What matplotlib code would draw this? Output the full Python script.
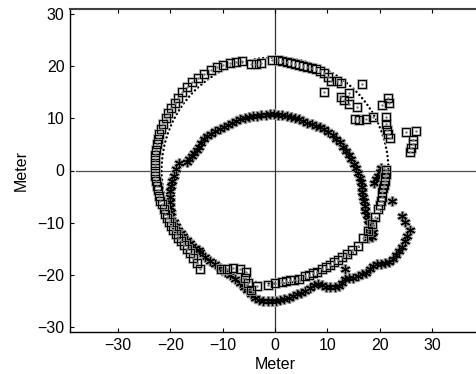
import numpy as np
import matplotlib.pyplot as plt
from matplotlib.patches import Circle

plt.rcParams['font.family'] = ['Liberation Sans', 'DejaVu Sans']

# reference circle (dotted)
circle_center = (0.0, 0.0)
circle_radius = 21.7

# square markers (estimated trajectory)
sq_x = [-14.4, -15.0, -15.6, -16.3, -16.8, -17.4, -18.0, -18.5, -19.0, -19.5,
        -19.9, -20.3, -20.6, -21.0, -21.3, -21.6, -21.9, -22.2, -22.4, -22.6,
        -22.8, -22.9, -23.0, -23.0, -23.0, -22.9, -22.8, -22.6, -22.4, -22.1,
        -21.8, -21.4, -20.9, -20.4, -19.8, -19.2, -18.5, -17.7, -16.8, -15.8,
        -14.7, -13.5, -12.3, -11.1, -9.9, -8.7, -7.5, -6.3,
        -4.5, -3.6, -2.6, -0.5, 0.5, 1.3, 2.2, 3.0, 3.8, 4.6, 5.4, 6.2, 7.0,
        7.8, 8.6, 9.4, 10.2, 10.8, 11.9, 12.7,
        9.4, 12.6, 13.1, 14.2, 14.2, 15.7, 16.7, 15.3, 16.1, 17.4, 18.7, 20.4,
        21.7, 21.8, 21.3, 21.3, 21.5, 21.7, 21.9, 25.0, 27.0, 26.4, 26.3, 26.1,
        25.8,
        21.3, 21.2, 21.1, 21.0, 20.9, 20.7, 20.5, 20.4, 20.2, 20.0, 19.6, 19.1,
        18.5, 17.8, 16.9, 15.9, 14.8, 13.7, 12.9, 12.1, 11.3, 10.5, 9.7, 8.9,
        8.1, 7.3, 6.5, 5.7, 4.5, 3.7, 2.9, 2.1, 1.3, 0.0, -1.3, -3.5,
        -4.5, -5.1, -5.7, -5.6, -6.7, -8.0, -9.2, -10.3]
sq_y = [-18.9, -17.7, -16.7, -15.8, -15.0, -14.3, -13.6, -13.0, -12.2, -11.5,
        -10.7, -9.9, -9.1, -8.3, -7.4, -6.5, -5.8, -4.8, -3.8, -2.9,
        -2.0, -1.0, 0.0, 1.0, 2.0, 3.0, 4.0, 5.0, 6.0, 7.0,
        8.0, 9.0, 10.0, 11.0, 12.0, 13.0, 14.0, 15.0, 16.0, 17.0,
        17.8, 18.6, 19.3, 19.9, 20.3, 20.6, 20.9, 21.0,
        20.4, 20.4, 20.7, 21.2, 21.2, 21.0, 20.9, 20.7, 20.5, 20.3, 20.1, 19.9, 19.6,
        19.4, 19.1, 18.7, 18.0, 17.2, 17.2, 16.7,
        15.1, 14.2, 13.5, 14.9, 12.7, 12.1, 16.6, 9.9, 9.7, 9.8, 10.3, 12.5,
        13.9, 12.9, 10.2, 8.9, 7.8, 7.0, 6.2, 7.4, 7.5, 5.9, 5.1, 4.3,
        3.5,
        0.1, -0.6, -1.3, -2.0, -2.7, -3.4, -4.2, -5.0, -5.8, -6.6, -7.4, -8.9,
        -10.2, -11.7, -13.0, -14.4, -15.3, -16.1, -16.6, -17.1, -17.6, -18.1, -18.6, -19.0,
        -19.4, -19.7, -20.0, -20.3, -20.8, -21.0, -21.1, -21.3, -21.4, -21.6, -21.9, -22.1,
        -22.9, -21.5, -20.6, -19.5, -18.9, -18.7, -19.0, -19.0]

# asterisk markers (estimated trajectory)
st_x = [-18.3, -18.9, -19.4, -19.7, -19.9, -20.0, -20.1, -20.1, -20.0, -19.9,
        -19.8, -19.4, -18.9, -18.5, -18.0, -17.5, -16.9, -16.3, -15.8, -15.3,
        -14.3, -13.3, -12.4, -11.5, -10.5, -9.5, -8.6, -7.6, -6.7, -6.0,
        -5.4, -4.5, -3.8, -3.0, -2.2, -1.4, -0.6, 0.2, 1.0, 1.8,
        2.6, 3.4, 4.2, 5.0, 5.8, 6.6, 7.4, 8.2, 9.0, 9.8,
        10.6, 11.4, 12.2, 12.9, 13.4, 14.2, 15.0, 15.8, 16.6, 17.4,
        18.2, 18.8, 19.5, 20.3, 21.0, 21.8, 22.6, 23.2, 23.8, 24.3,
        24.8, 25.3, 25.8,
        -16.9, -16.4, -15.9, -15.4, -15.0, -14.6, -14.2, -13.6, -13.0, -12.2,
        -11.4, -10.6, -9.8, -9.0, -8.2, -7.4, -6.6, -5.8, -5.0, -4.2,
        -3.4, -2.6, -1.8, -1.0, -0.2, 0.6, 1.4, 2.2, 3.0, 3.8,
        4.6, 5.4, 6.2, 7.0, 7.8, 8.6, 9.4, 10.2, 11.0, 11.7,
        12.4, 13.0, 13.6, 14.1, 14.6, 15.1, 15.5, 15.9, 16.2, 16.4,
        16.6, 16.7, 16.9, 17.0, 17.2, 17.3, 17.5, 17.7, 17.9, 18.1,
        18.4, 18.6,
        20.3, 20.0, 19.6, 19.3, 19.0, 18.0, 18.8, 17.8,
        22.3, 24.2, 24.9, 13.4, -14.5]
st_y = [1.4, 0.3, -1.0, -2.0, -3.0, -4.0, -5.0, -6.0, -7.0, -7.9,
        -8.8, -9.9, -10.6, -11.4, -12.0, -12.6, -13.3, -13.9, -14.4, -14.9,
        -15.7, -16.6, -17.4, -18.0, -18.7, -19.4, -20.0, -20.8, -21.6, -22.3,
        -22.9, -23.7, -24.4, -24.8, -25.1, -25.1, -25.0, -25.0, -24.8, -24.6,
        -24.4, -24.1, -23.8, -23.5, -23.1, -22.6, -22.0, -21.7, -22.0, -22.3,
        -22.3, -22.4, -22.1, -21.5, -20.8, -20.7, -20.6, -20.3, -19.9, -19.6,
        -19.0, -18.4, -18.0, -18.0, -17.8, -17.5, -17.0, -16.3, -15.4, -14.6,
        -13.6, -12.6, -11.5,
        1.7, 2.2, 2.8, 3.4, 4.0, 4.6, 5.3, 6.0, 6.6, 7.1,
        7.5, 7.9, 8.4, 8.8, 9.2, 9.5, 9.9, 10.1, 10.3, 10.4,
        10.5, 10.6, 10.7, 10.8, 10.8, 10.7, 10.6, 10.4, 10.2, 10.0,
        9.8, 9.5, 9.2, 8.9, 8.6, 8.3, 7.9, 7.4, 6.8, 6.1,
        5.4, 4.6, 3.8, 3.0, 2.2, 1.3, 0.4, -0.5, -1.4, -2.3,
        -3.2, -4.1, -5.0, -5.9, -6.8, -7.7, -8.6, -9.5, -10.4, -11.3,
        -12.1, -12.8,
        0.4, -0.3, -1.0, -1.7, -2.4, -11.6, -11.8, -13.0,
        -5.8, -8.8, -9.8, -19.0, -15.3]

fig = plt.figure(figsize=(4.76, 3.74), dpi=100)
ax = fig.add_axes([70/476, 42/374, 410/476, 323/374])

# axis cross
ax.plot([-38, 40], [0, 0], color='0.3', lw=0.9, zorder=1)
ax.plot([0, 0], [-31, 31], color='0.2', lw=0.9, zorder=1)

ax.add_patch(Circle(circle_center, circle_radius, fill=False, color='black',
                    lw=1.8, linestyle=(0, (0.01, 1.7)), capstyle='round', zorder=2))

ax.plot(st_x, st_y, ls='none', marker=(6, 2, 0), ms=7.5, mew=2.4, color='0.6', zorder=3)
ax.plot(st_x, st_y, ls='none', marker=(6, 2, 0), ms=6.5, mew=0.9, color='black', zorder=4)

ax.plot(sq_x, sq_y, ls='none', marker='s', ms=5.2, mfc='none', mec='0.6', mew=1.8, zorder=5)
ax.plot(sq_x, sq_y, ls='none', marker='s', ms=5.2, mfc='none', mec='black', mew=0.7, zorder=6)
ax.plot(sq_x, sq_y, ls='none', marker='.', ms=1.5, color='0.45', zorder=7)

ax.set_xlim(-39.2, 39.2)
ax.set_ylim(-31, 31)
ax.set_xticks([-30, -20, -10, 0, 10, 20, 30])
ax.set_yticks([-30, -20, -10, 0, 10, 20, 30])
ax.tick_params(direction='in', length=3, top=True, right=True, labelsize=11.5, pad=4)
for s in ax.spines.values():
    s.set_linewidth(1.0)
ax.spines['top'].set_linewidth(1.5)
ax.spines['top'].set_color('0.25')

ax.set_xlabel('Meter', fontsize=11.5, labelpad=3)
ax.set_ylabel('Meter', fontsize=11.5, labelpad=6)

fig.savefig('out.png', dpi=100)
